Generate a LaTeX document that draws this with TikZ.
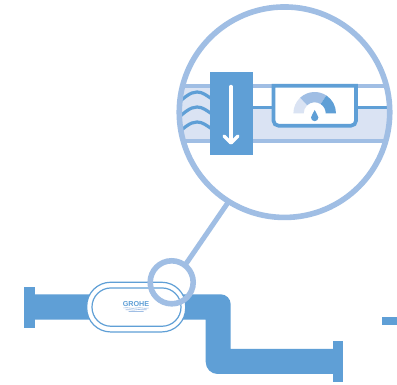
\documentclass[tikz,border=0pt]{standalone}
\usepackage{fontspec}
\setmainfont{Liberation Sans}
\definecolor{dk}{HTML}{5F9FD6}
\definecolor{md}{HTML}{A0BEE4}
\definecolor{lt}{HTML}{DAE3F3}
\tikzset{
  pipe/.style={fill=dk,draw=none},
  ring/.style={draw=md,line width=5.6pt,fill=none},
  thin/.style={draw=dk,line width=1.2pt,fill=white},
  wave/.style={draw=dk,line width=3.2pt},
  logowave/.style={draw=md,line width=0.6pt},
}
\begin{document}
\begin{tikzpicture}[x=1pt,y=-1pt]
\useasboundingbox (0,0) rectangle (397,385);
\fill[white] (0,0) rectangle (397,385);
% pipes
\fill[pipe] (24.3,287) rectangle (34.5,327.7);
\fill[pipe] (34,294.3) -- (220.7,294.3) arc[start angle=-90,end angle=0,radius=10] -- (230.7,349) -- (333,349) -- (333,374) -- (217.7,374) arc[start angle=90,end angle=180,radius=12] -- (205.7,319.7) -- (34,319.7) -- cycle;
\fill[pipe] (332.7,341.3) rectangle (343,382.3);
\fill[pipe] (382,317) rectangle (397,325);
% device
\node[thin,minimum width=99pt,minimum height=49.7pt,rounded corners=24pt,inner sep=0] (outer) at (136.2,307.1) {};
\node[thin,minimum width=89pt,minimum height=38.3pt,rounded corners=19pt,inner sep=0] (inner) at (136.5,307.1) {};
\node[text=dk,font=\bfseries\fontsize{7.2}{7.2}\selectfont,inner sep=0] (logo) at (136,304) {GROHE};
\draw[logowave] (123.5,308) .. controls (128,306.8) and (131,309.2) .. (136,308) .. controls (141,306.8) and (144,309.2) .. (148.5,308);
\draw[logowave] (125.5,309.8) .. controls (129,308.6) and (132,311) .. (136,309.8) .. controls (140,308.6) and (143,311) .. (146.5,309.8);
\draw[logowave] (128.5,311.5) .. controls (131,310.5) and (133,312.5) .. (136,311.5) .. controls (139,310.5) and (141,312.5) .. (143.5,311.5);
% detail inside
\begin{scope}
\clip (284.5,112.2) circle[radius=105];
\fill[lt] (170,88) rectangle (210,139.3);
\fill[lt] (210,109.3) rectangle (400,139.3);
\fill[md] (170,84) rectangle (400,88);
\fill[md] (170,139.3) rectangle (400,143.3);
\fill[dk] (252,105.7) rectangle (400,109.5);
\foreach \yy in {92,107,122}{
  \draw[wave] (178,\yy+11) .. controls (184,\yy+6) and (190,\yy) .. (197,\yy) .. controls (203,\yy) and (207,\yy+4) .. (212,\yy+7);
}
\end{scope}
% arrow box
\node[fill=dk,minimum width=42.7pt,minimum height=83pt,inner sep=0] (arrowbox) at (231.35,113.5) {};
\draw[draw=white,line width=3.4pt,line cap=round,line join=round] (231,86.5) -- (231,142.5);
\draw[draw=white,line width=3.4pt,line cap=round,line join=round] (224,136) -- (231,143) -- (238,136);
% gauge box
\fill[white] (273.5,85.7) -- (356,85.7) -- (356,120.7) arc[start angle=0,end angle=90,radius=5] -- (278.5,125.7) arc[start angle=90,end angle=180,radius=5] -- cycle;
\draw[dk,line width=3.7pt] (273.5,85.7) -- (356,85.7) -- (356,120.7) arc[start angle=0,end angle=90,radius=5] -- (278.5,125.7) arc[start angle=90,end angle=180,radius=5] -- cycle;
% gauge (y axis points down, so angles are mirrored)
\def\seg#1#2#3{\fill[#1] ({314.7+21.3*cos(#2)},{113.3-21.3*sin(#2)}) arc[start angle=-#2,end angle=-#3,radius=21.3] -- ({314.7+11*cos(#3)},{113.3-11*sin(#3)}) arc[start angle=-#3,end angle=-#2,radius=11] -- cycle;}
\seg{lt}{180}{133}
\seg{md}{133}{57}
\seg{dk}{57}{0}
\fill[dk] (314.7,110) .. controls (315.4,113) and (318.4,115) .. (318.4,117.5) arc[start angle=0,end angle=180,radius=3.7] .. controls (311,115) and (314,113) .. (314.7,110) -- cycle;
% rings
\node[circle,ring,minimum size=210.5pt,inner sep=0,outer sep=0] (big) at (284.5,112.2) {};
\node[circle,ring,minimum size=43pt,inner sep=0,outer sep=0] (small) at (171.7,282.3) {};
\draw[draw=md,line width=5pt] (big.238) -- (small.52);
\end{tikzpicture}
\end{document}
